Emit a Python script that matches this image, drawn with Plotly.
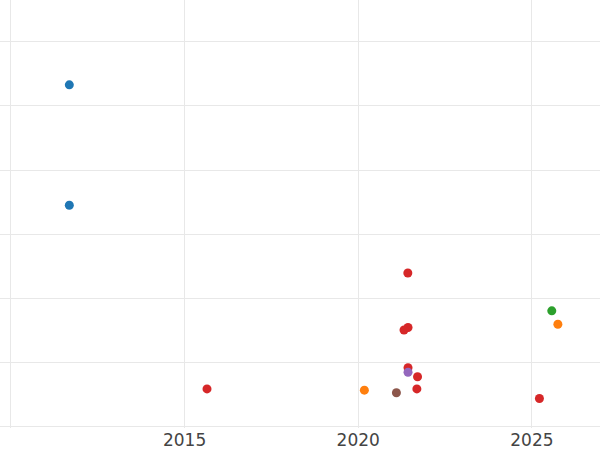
import plotly.graph_objects as go

series_names = ["Blue", "Orange", "Green", "Red", "Purple", "Brown"]
series_colors = ["#1f77b4", "#ff7f0e", "#2ca02c", "#d62728", "#9467bd", "#8c564b"]

blue_dates = ["2011-09-07", "2011-09-07"]
blue_values = [53.3, 34.5]

orange_dates = ["2025-10-01", "2020-03-06"]
orange_values = [15.9, 5.6]

green_dates = ["2025-07-29"]
green_values = [18.0]

red_dates = ["2021-06-06", "2021-06-08", "2021-04-27", "2021-06-08",
             "2021-09-16", "2021-09-09", "2025-03-21", "2015-08-25"]
red_values = [23.9, 15.4, 15.0, 9.1, 7.7, 5.8, 4.3, 5.8]

purple_dates = ["2021-06-08"]
purple_values = [8.4]

brown_dates = ["2021-02-06"]
brown_values = [5.2]

all_dates = [blue_dates, orange_dates, green_dates, red_dates, purple_dates, brown_dates]
all_values = [blue_values, orange_values, green_values, red_values, purple_values, brown_values]

fig = go.Figure()
for name, color, xs, ys in zip(series_names, series_colors, all_dates, all_values):
    fig.add_trace(go.Scatter(x=xs, y=ys, mode="markers", name=name,
                             marker=dict(color=color, size=9, line=dict(width=0))))

fig.update_layout(
    width=600, height=450,
    margin=dict(l=0, r=0, t=0, b=22),
    paper_bgcolor="white", plot_bgcolor="white",
    showlegend=False,
    font=dict(family="DejaVu Sans", size=17, color="#444"),
    xaxis=dict(type="date", range=["2009-09-08", "2026-12-18"],
               dtick="M60", tick0="2010-01-01", tickformat="%Y",
               showgrid=True, gridcolor="#e8e8e8", gridwidth=1,
               zeroline=False, showline=False, ticks=""),
    yaxis=dict(range=[-0.31, 66.56], tick0=0, dtick=10,
               showgrid=True, gridcolor="#e8e8e8", gridwidth=1,
               zeroline=False, showline=False, showticklabels=False, ticks=""),
)

fig.write_html("out.html", config={"displayModeBar": False},
               post_script="document.body.style.margin='0';")
